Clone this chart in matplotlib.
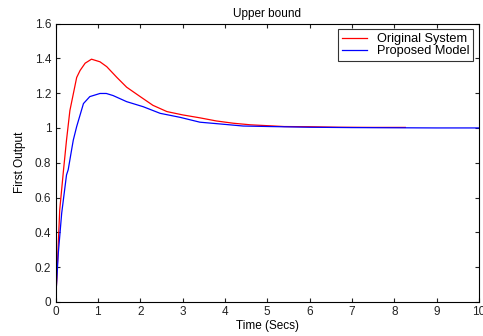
import matplotlib
matplotlib.use("Agg")
import matplotlib.pyplot as plt

# step responses
red_t = [0, 0.03, 0.1, 0.19, 0.26, 0.34, 0.5, 0.58, 0.7, 0.85, 1.05, 1.21, 1.45, 1.68,
         2.0, 2.3, 2.63, 3.0, 3.41, 3.8, 4.2, 4.6, 5.0, 5.4, 6.0, 6.7, 7.5, 8.26]
red_y = [0, 0.13, 0.53, 0.76, 0.93, 1.10, 1.29, 1.33, 1.372, 1.395, 1.38, 1.352, 1.29, 1.234,
         1.18, 1.13, 1.094, 1.075, 1.058, 1.04, 1.027, 1.018, 1.013, 1.008, 1.007, 1.004, 1.003, 1.003]

blue_t = [0, 0.066, 0.146, 0.26, 0.30, 0.38, 0.42, 0.5, 0.66, 0.81, 1.05, 1.2, 1.36, 1.68,
          2.07, 2.47, 2.94, 3.41, 3.88, 4.43, 5.07, 6.0, 7.0, 8.0, 9.0, 10.0]
blue_y = [0, 0.28, 0.51, 0.73, 0.76, 0.874, 0.93, 1.008, 1.14, 1.18, 1.198, 1.198, 1.186, 1.151,
          1.122, 1.084, 1.061, 1.033, 1.023, 1.011, 1.008, 1.004, 1.002, 1.001, 1.0, 1.0]

xticks = list(range(0, 11))
yticks = [0, 0.2, 0.4, 0.6, 0.8, 1.0, 1.2, 1.4, 1.6]
ytick_labels = ['0', '0.2', '0.4', '0.6', '0.8', '1', '1.2', '1.4', '1.6']

plt.rcParams['font.family'] = ['Liberation Sans', 'DejaVu Sans']
plt.rcParams['font.size'] = 8

fig = plt.figure(figsize=(4.83, 3.36), dpi=100)
ax = fig.add_axes([55.5 / 483, 1 - 302 / 336, (479 - 55.5) / 483, (302 - 23.5) / 336])

ax.plot(red_t, red_y, color='#ff0000', lw=0.9, label='Original System')
ax.plot(blue_t, blue_y, color='#0000ff', lw=0.9, label='Proposed Model')

ax.set_xlim(0, 10)
ax.set_ylim(0, 1.6)
ax.set_xticks(xticks)
ax.set_yticks(yticks)
ax.set_yticklabels(ytick_labels)
ax.tick_params(direction='in', top=True, right=True, length=3, width=0.8,
               labelsize=8.5, colors='#222222', pad=3)
for s in ax.spines.values():
    s.set_linewidth(0.8)

ax.set_title('Upper bound', fontsize=8.5, pad=5)
ax.set_xlabel('Time (Secs)', fontsize=8.5, labelpad=1)
ax.set_ylabel('First Output', fontsize=8.5, labelpad=6)

leg = ax.legend(loc='upper right', fontsize=9.2, frameon=True, fancybox=False,
                edgecolor='black', borderaxespad=0.45, handlelength=2.0,
                handletextpad=0.75, borderpad=0.3, labelspacing=0.0)
leg.get_frame().set_linewidth(0.8)

fig.savefig('out.png', dpi=100)
